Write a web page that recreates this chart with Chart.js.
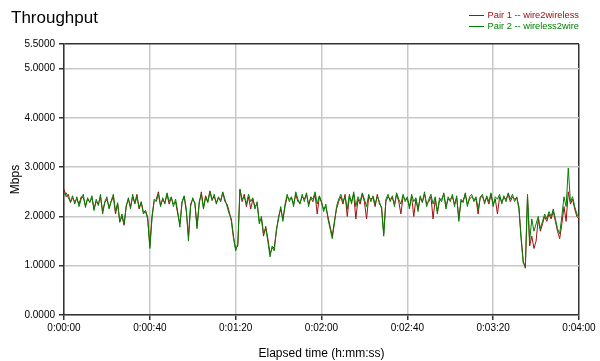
<!DOCTYPE html>
<html lang="en">
<head>
    <meta charset="UTF-8">
    <title>Throughput</title>
    <script src="https://cdn.jsdelivr.net/npm/chart.js@4.4.1/dist/chart.umd.min.js"></script>
    <style>
        html, body {
            margin: 0;
            padding: 0;
            background: #fff;
        }
        .wrap {
            position: relative;
            width: 600px;
            height: 361px;
            font-family: "Liberation Sans", Arial, sans-serif;
        }
        .title {
            position: absolute;
            left: 11px;
            top: 8px;
            font-size: 17px;
            color: #000;
        }
        .legend {
            position: absolute;
            right: 21px;
            top: 10px;
            font-size: 9.3px;
            line-height: 11px;
        }
        .legend span {
            display: inline-block;
            width: 15px;
            height: 1px;
            margin-right: 4px;
            vertical-align: middle;
        }
        canvas {
            position: absolute;
            left: 0;
            top: 0;
        }
    </style>
</head>
<body>
<div class="wrap">
    <canvas id="myChart" width="600" height="361"></canvas>
    <div class="title">Throughput</div>
    <div class="legend">
        <div style="color:#a01010"><span style="background:#a01010"></span>Pair 1 -- wire2wireless</div>
        <div style="color:#008000"><span style="background:#008000"></span>Pair 2 -- wireless2wire</div>
    </div>
</div>

<script>
    // elapsed seconds, one sample per second
    var seconds = [];
    for (var s = 0; s <= 240; s++) seconds.push(s);

    var xTicks = [0, 40, 80, 120, 160, 200, 240];
    var yTicks = [0, 1, 2, 3, 4, 5, 5.5];

    // Pair 1 -- wire2wireless (Mbps)
    var pair1 = [
        2.55, 2.40, 2.45, 2.28, 2.38, 2.30, 2.35, 2.25, 2.40, 2.38,
        2.22, 2.35, 2.30, 2.38, 2.15, 2.30, 2.25, 2.40, 2.10, 2.28,
        2.35, 2.18, 2.30, 2.40, 2.05, 2.25, 1.90, 2.00, 1.82, 2.22,
        2.35, 2.20, 2.40, 2.28, 2.45, 2.15, 2.28, 2.08, 2.12, 1.98,
        1.40, 2.00, 2.30, 2.35, 2.50, 2.22, 2.35, 2.28, 2.45, 2.25,
        2.38, 2.25, 2.30, 2.05, 1.85, 2.28, 2.40, 2.10, 1.60, 2.25,
        2.35, 2.28, 1.80, 2.25, 2.50, 2.18, 2.42, 2.30, 2.52, 2.35,
        2.40, 2.28, 2.38, 2.32, 2.48, 2.30, 2.25, 2.10, 1.90, 1.55,
        1.35, 1.40, 2.55, 2.30, 2.45, 2.20, 2.40, 2.15, 2.35, 2.20,
        2.25, 1.90, 1.95, 1.60, 1.80, 1.55, 1.25, 1.35, 1.38, 1.70,
        2.00, 2.15, 1.95, 2.20, 2.40, 2.35, 2.38, 2.25, 2.45, 2.30,
        2.28, 2.40, 2.35, 2.45, 2.25, 2.38, 2.30, 2.45, 2.05, 2.40,
        2.28, 2.15, 2.20, 2.00, 1.80, 1.60, 1.90, 2.15, 2.30, 2.40,
        2.25, 2.45, 2.00, 2.40, 2.30, 2.45, 1.95, 2.35, 2.25, 2.45,
        2.30, 1.95, 2.40, 2.35, 2.38, 2.20, 2.45, 2.25, 2.20, 1.65,
        2.30, 2.40, 2.35, 2.38, 2.25, 2.45, 2.30, 2.05, 2.40, 2.35,
        2.35, 2.20, 2.40, 2.00, 2.35, 2.15, 2.38, 2.30, 2.45, 2.25,
        2.30, 2.40, 1.95, 2.35, 2.10, 2.32, 2.35, 2.45, 2.20, 2.35,
        2.35, 2.40, 2.25, 2.38, 1.95, 2.30, 2.32, 2.45, 2.25, 2.35,
        2.40, 2.35, 2.35, 2.05, 2.40, 2.40, 2.30, 2.38, 2.25, 2.45,
        2.25, 2.35, 2.05, 2.40, 2.30, 2.38, 2.35, 2.45, 2.30, 2.40,
        2.35, 2.38, 2.20, 1.60, 1.10, 0.95, 2.40, 1.40, 1.60, 1.35,
        1.50, 1.95, 1.70, 1.85, 2.00, 1.90, 2.05, 1.95, 2.10, 1.90,
        1.70, 1.55, 1.85, 2.20, 1.90, 2.50, 2.25, 2.35, 2.15, 2.00,
        1.95
    ];

    // Pair 2 -- wireless2wire (Mbps)
    var pair2 = [
        2.45, 2.48, 2.38, 2.30, 2.42, 2.25, 2.40, 2.20, 2.35, 2.45,
        2.18, 2.38, 2.28, 2.42, 2.12, 2.35, 2.22, 2.45, 2.05, 2.30,
        2.40, 2.15, 2.32, 2.45, 2.10, 2.28, 1.88, 2.05, 1.85, 2.20,
        2.38, 2.15, 2.45, 2.25, 2.40, 2.18, 2.30, 2.05, 2.10, 1.95,
        1.35, 1.95, 2.35, 2.30, 2.45, 2.20, 2.38, 2.25, 2.48, 2.30,
        2.40, 2.20, 2.35, 2.10, 1.78, 2.30, 2.42, 2.15, 1.50, 2.20,
        2.38, 2.25, 1.75, 2.30, 2.45, 2.15, 2.40, 2.28, 2.50, 2.32,
        2.45, 2.25, 2.40, 2.30, 2.50, 2.35, 2.20, 2.05, 1.95, 1.60,
        1.30, 1.45, 2.55, 2.35, 2.40, 2.25, 2.45, 2.30, 2.38, 2.15,
        2.30, 1.85, 2.00, 1.65, 1.75, 1.50, 1.18, 1.40, 1.30, 1.75,
        1.95, 2.20, 1.90, 2.25, 2.45, 2.30, 2.40, 2.20, 2.50, 2.35,
        2.25, 2.45, 2.30, 2.48, 2.20, 2.40, 2.35, 2.50, 2.25, 2.42,
        2.30, 2.10, 2.25, 1.95, 1.75, 1.55, 1.85, 2.20, 2.35, 2.45,
        2.30, 2.40, 2.15, 2.45, 2.25, 2.50, 2.20, 2.40, 2.30, 2.48,
        2.35, 2.20, 2.45, 2.30, 2.42, 2.25, 2.40, 2.30, 2.15, 1.60,
        2.35, 2.45, 2.30, 2.42, 2.20, 2.48, 2.35, 2.25, 2.45, 2.30,
        2.40, 2.15, 2.45, 2.30, 2.38, 2.10, 2.42, 2.28, 2.50, 2.20,
        2.35, 2.45, 2.25, 2.40, 2.05, 2.38, 2.30, 2.48, 2.15, 2.40,
        2.30, 2.45, 2.20, 2.42, 1.90, 2.35, 2.28, 2.48, 2.20, 2.40,
        2.45, 2.30, 2.40, 2.15, 2.38, 2.45, 2.25, 2.42, 2.30, 2.48,
        2.20, 2.40, 2.35, 2.45, 2.25, 2.42, 2.30, 2.48, 2.35, 2.45,
        2.30, 2.40, 2.15, 1.55, 1.05, 1.00, 2.45, 1.50, 1.95, 1.70,
        1.85, 2.00, 1.75, 1.90, 2.05, 1.95, 2.10, 2.00, 2.15, 1.95,
        1.75, 1.65, 2.00, 2.40, 2.20, 2.98, 2.30, 2.40, 2.20, 2.05,
        1.98
    ];

    function hms(v) {
        var h = Math.floor(v / 3600);
        var m = Math.floor((v % 3600) / 60);
        var sec = Math.round(v % 60);
        return h + ':' + (m < 10 ? '0' : '') + m + ':' + (sec < 10 ? '0' : '') + sec;
    }

    function toPoints(vals) {
        return vals.map(function (v, i) { return { x: seconds[i], y: v }; });
    }

    var tickFont = { family: '"Liberation Sans", Arial, sans-serif', size: 10 };
    var titleFont = { family: '"Liberation Sans", Arial, sans-serif', size: 12 };

    var ctx = document.getElementById('myChart').getContext('2d');
    var myChart = new Chart(ctx, {
        type: 'line',
        data: {
            datasets: [
                {
                    label: 'Pair 1 -- wire2wireless',
                    data: toPoints(pair1),
                    borderColor: '#a01010',
                    borderWidth: 1,
                    pointRadius: 0,
                    order: 2
                },
                {
                    label: 'Pair 2 -- wireless2wire',
                    data: toPoints(pair2),
                    borderColor: '#008000',
                    borderWidth: 1,
                    pointRadius: 0,
                    order: 1
                }
            ]
        },
        options: {
            responsive: false,
            animation: false,
            layout: { padding: { left: 0, right: 21, top: 44, bottom: 0 } },
            plugins: {
                legend: { display: false },
                tooltip: { enabled: false }
            },
            scales: {
                x: {
                    type: 'linear',
                    min: 0,
                    max: 240,
                    afterFit: function (scale) { scale.height = 46; },
                    afterBuildTicks: function (scale) {
                        scale.ticks = xTicks.map(function (v) { return { value: v }; });
                    },
                    ticks: {
                        color: '#000',
                        font: tickFont,
                        padding: 2,
                        maxRotation: 0,
                        callback: function (v) { return hms(v); }
                    },
                    grid: {
                        color: function (c) {
                            return c.tick && c.tick.value === 240 ? '#333' : '#c8c8c8';
                        },
                        lineWidth: 1.5,
                        tickLength: 5,
                        tickColor: '#333'
                    },
                    border: { color: '#333', width: 1.5 },
                    title: {
                        display: true,
                        text: 'Elapsed time (h:mm:ss)',
                        color: '#000',
                        font: titleFont,
                        padding: { top: 6, bottom: 0 }
                    }
                },
                y: {
                    min: 0,
                    max: 5.5,
                    afterFit: function (scale) { scale.width = 64; },
                    afterBuildTicks: function (scale) {
                        scale.ticks = yTicks.map(function (v) { return { value: v }; });
                    },
                    ticks: {
                        color: '#000',
                        font: tickFont,
                        padding: 4,
                        callback: function (v) { return Number(v).toFixed(4); }
                    },
                    grid: {
                        color: function (c) {
                            return c.tick && c.tick.value === 5.5 ? '#333' : '#c8c8c8';
                        },
                        lineWidth: 1.5,
                        tickLength: 5,
                        tickColor: '#333'
                    },
                    border: { color: '#333', width: 1.5 },
                    title: {
                        display: true,
                        text: 'Mbps',
                        color: '#000',
                        font: titleFont,
                        padding: { top: 8, bottom: 0 }
                    }
                }
            }
        }
    });
</script>
</body>
</html>
